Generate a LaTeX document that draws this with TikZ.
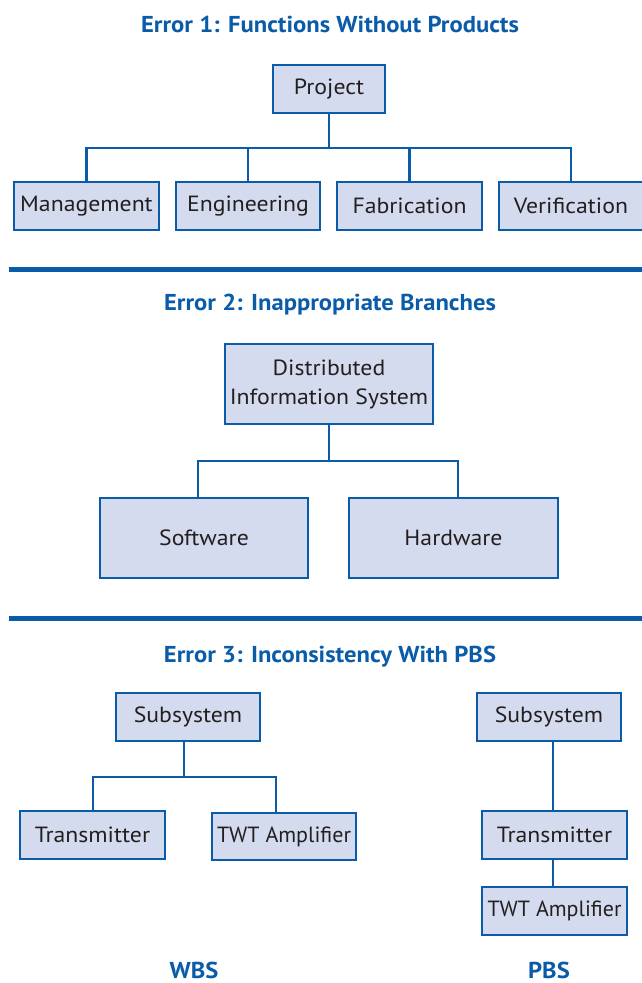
\documentclass[tikz,border=0pt]{standalone}
\usepackage{fontspec}
\setmainfont{PT Sans}
\newfontfamily\bodyfont[FakeStretch=1.08]{PT Sans}
\newfontfamily\narrowbodyfont[FakeStretch=1.0]{PT Sans}
\newfontfamily\titlefont[FakeStretch=1.07]{PT Sans Bold}
\definecolor{lineblue}{HTML}{0B5CA8}
\definecolor{boxfill}{HTML}{D5DBEE}
\definecolor{txt}{HTML}{231F20}
\begin{document}
\begin{tikzpicture}[x=1pt,y=-1pt,
  box/.style={draw=lineblue, line width=1.6pt, fill=boxfill, text=txt,
    font=\bodyfont\fontsize{22}{29}\selectfont, inner sep=0pt, align=center},
  narrowtext/.style={font=\narrowbodyfont\fontsize{22}{29}\selectfont},
  conn/.style={draw=lineblue, line width=2.4pt},
  ttl/.style={text=lineblue, anchor=base, inner sep=0pt, font=\titlefont\fontsize{23}{27}\selectfont},
  rulebar/.style={draw=lineblue, line width=5pt}]
\useasboundingbox (0,0) rectangle (642,983);

% ---------- Error 1 ----------
\node[ttl] (t1) at (330,32) {Error 1: Functions Without Products};
\node[box, minimum width=112pt, minimum height=48pt] (proj) at (329,89) {Project};
\node[box, minimum width=145pt, minimum height=48pt] (mgmt) at (86.5,206) {Management};
\node[box, minimum width=144pt, minimum height=48pt] (eng) at (248,206) {Engineering};
\node[box, minimum width=145pt, minimum height=48pt] (fab) at (409.5,206) {Fabrication};
\node[box, minimum width=144pt, minimum height=48pt] (ver) at (571,206) {Verification};
\coordinate (b1) at (329,148);
\draw[conn] (proj.south) -- (b1);
\draw[conn] (mgmt.north) |- (b1) -| (ver.north);
\draw[conn] (eng.north) -- (eng.north |- b1);
\draw[conn] (fab.north) -- (fab.north |- b1);
\coordinate (r1a) at (9,269.5);
\coordinate (r1b) at (645,269.5);
\draw[rulebar] (r1a) -- (r1b);

% ---------- Error 2 ----------
\node[ttl] (t2) at (330,310) {Error 2: Inappropriate Branches};
\node[box, minimum width=208pt, minimum height=80pt] (dis) at (329,384) {Distributed\\Information System};
\node[box, minimum width=208pt, minimum height=80pt] (sw) at (204,538) {Software};
\node[box, minimum width=209pt, minimum height=80pt] (hw) at (453.5,538) {Hardware};
\coordinate (b2l) at (198,461);
\coordinate (b2r) at (458,461);
\draw[conn] (dis.south) -- (dis.south |- b2l);
\draw[conn] (sw.north -| b2l) -- (b2l) -- (b2r) -- (hw.north -| b2r);
\coordinate (r2a) at (9,618.5);
\coordinate (r2b) at (645,618.5);
\draw[rulebar] (r2a) -- (r2b);

% ---------- Error 3 ----------
\node[ttl] (t3) at (330,662) {Error 3: Inconsistency With PBS};
% WBS
\node[box, minimum width=144pt, minimum height=48pt] (ws) at (188,717) {Subsystem};
\node[box, minimum width=145pt, minimum height=48pt] (wt) at (92.5,835) {Transmitter};
\node[box, narrowtext, minimum width=144pt, minimum height=47pt] (wa) at (284,836.5) {TWT Amplifier};
\coordinate (b3m) at (184,777);
\coordinate (b3l) at (93,777);
\coordinate (b3r) at (276,777);
\draw[conn] (ws.south -| b3m) -- (b3m);
\draw[conn] (wt.north -| b3l) -- (b3l) -- (b3r) -- (wa.north -| b3r);
% PBS
\node[box, minimum width=144pt, minimum height=48pt] (ps) at (549,717) {Subsystem};
\node[box, minimum width=145pt, minimum height=48pt] (pt) at (554.5,835) {Transmitter};
\node[box, narrowtext, minimum width=145pt, minimum height=48pt] (pa) at (554.5,911) {TWT Amplifier};
\coordinate (p3) at (553,800);
\draw[conn] (ps.south -| p3) -- (pt.north -| p3);
\draw[conn] (pt.south -| p3) -- (pa.north -| p3);

\node[ttl] (lw) at (194,978) {WBS};
\node[ttl] (lp) at (549,978) {PBS};
\end{tikzpicture}
\end{document}
